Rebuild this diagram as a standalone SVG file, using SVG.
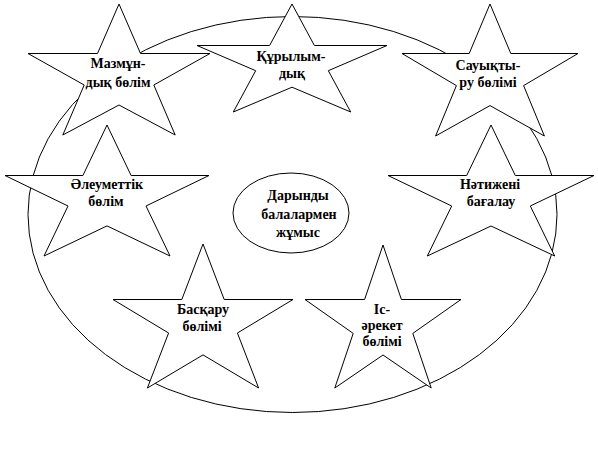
<svg xmlns="http://www.w3.org/2000/svg" width="598" height="460" viewBox="0 0 598 460">
<style>
.bg{fill:#fff}
.frame{fill:none;stroke:#000;stroke-width:1}
.star{fill:#fff;stroke:#000;stroke-width:1;stroke-linejoin:miter}
.hub{fill:#fff;stroke:#000;stroke-width:1}
.t{font-weight:bold;font-size:14px;fill:#000;text-anchor:middle}
</style>
<rect class="bg" x="0" y="0" width="598" height="460"/>
<g id="frame">
<ellipse class="frame" cx="292.5" cy="214.5" rx="264.5" ry="198"/>
</g>
<g id="connectors"></g>
<g font-family="'Liberation Serif', 'DejaVu Serif', serif">
<g id="node-mazmun">
<polygon class="star" points="119,4 140.5,53.5 210,53.5 153.8,85 175.2,135 119,105 62.8,135 84.2,85 28,53.5 97.5,53.5"/>
<text class="t" x="118" y="68">Мазмұн-</text>
<text class="t" x="118" y="87">дық бөлім</text>
</g>
<g id="node-qurylym">
<polygon class="star" points="292,4 314.4,45.5 387,45.5 328.3,70.7 350.7,112 292,87.2 233.3,112 255.7,70.7 197,45.5 269.6,45.5"/>
<text class="t" x="291" y="61">Құрылым-</text>
<text class="t" x="292" y="78">дық</text>
</g>
<g id="node-sauyqtyru">
<polygon class="star" points="490,4 510.8,53.5 578,53.5 523.6,85.6 544.4,136 490,105.6 435.6,136 456.4,85.6 402,53.5 469.2,53.5"/>
<text class="t" x="488" y="70">Сауықты-</text>
<text class="t" x="488" y="87">ру бөлімі</text>
</g>
<g id="node-aleumettik">
<polygon class="star" points="107,125 131.1,175.5 209,175.5 146,206 170,256 107,225.9 44,256 68,206 5,175.5 82.9,175.5"/>
<text class="t" x="107" y="189">Әлеуметтік</text>
<text class="t" x="106" y="206">бөлім</text>
</g>
<g id="node-natizheni">
<polygon class="star" points="491,125 515.3,175.5 594,175.5 530.3,206 554.7,256 491,226 427.3,256 451.7,206 388,175.5 466.7,175.5"/>
<text class="t" x="490" y="189">Нәтижені</text>
<text class="t" x="491" y="206">бағалау</text>
</g>
<g id="node-basqaru">
<polygon class="star" points="203,244 224.2,299.5 293,299.5 237.4,333 258.6,388 203,354.9 147.4,388 168.6,333 113,299.5 181.8,299.5"/>
<text class="t" x="203" y="314">Басқару</text>
<text class="t" x="202" y="331">бөлімі</text>
</g>
<g id="node-is-areket">
<polygon class="star" points="383,245 401.4,299.5 461,299.5 412.8,333.4 431.2,388 383,355 334.8,388 353.2,333.4 305,299.5 364.6,299.5"/>
<text class="t" x="382" y="314">Іс-</text>
<text class="t" x="382" y="330">әрекет</text>
<text class="t" x="382" y="346">бөлімі</text>
</g>
<g id="node-center">
<ellipse class="hub" cx="291" cy="213" rx="58" ry="40"/>
<text class="t" x="298" y="200">Дарынды</text>
<text class="t" x="299" y="219">балалармен</text>
<text class="t" x="298" y="237">жұмыс</text>
</g>
</g>
</svg>
